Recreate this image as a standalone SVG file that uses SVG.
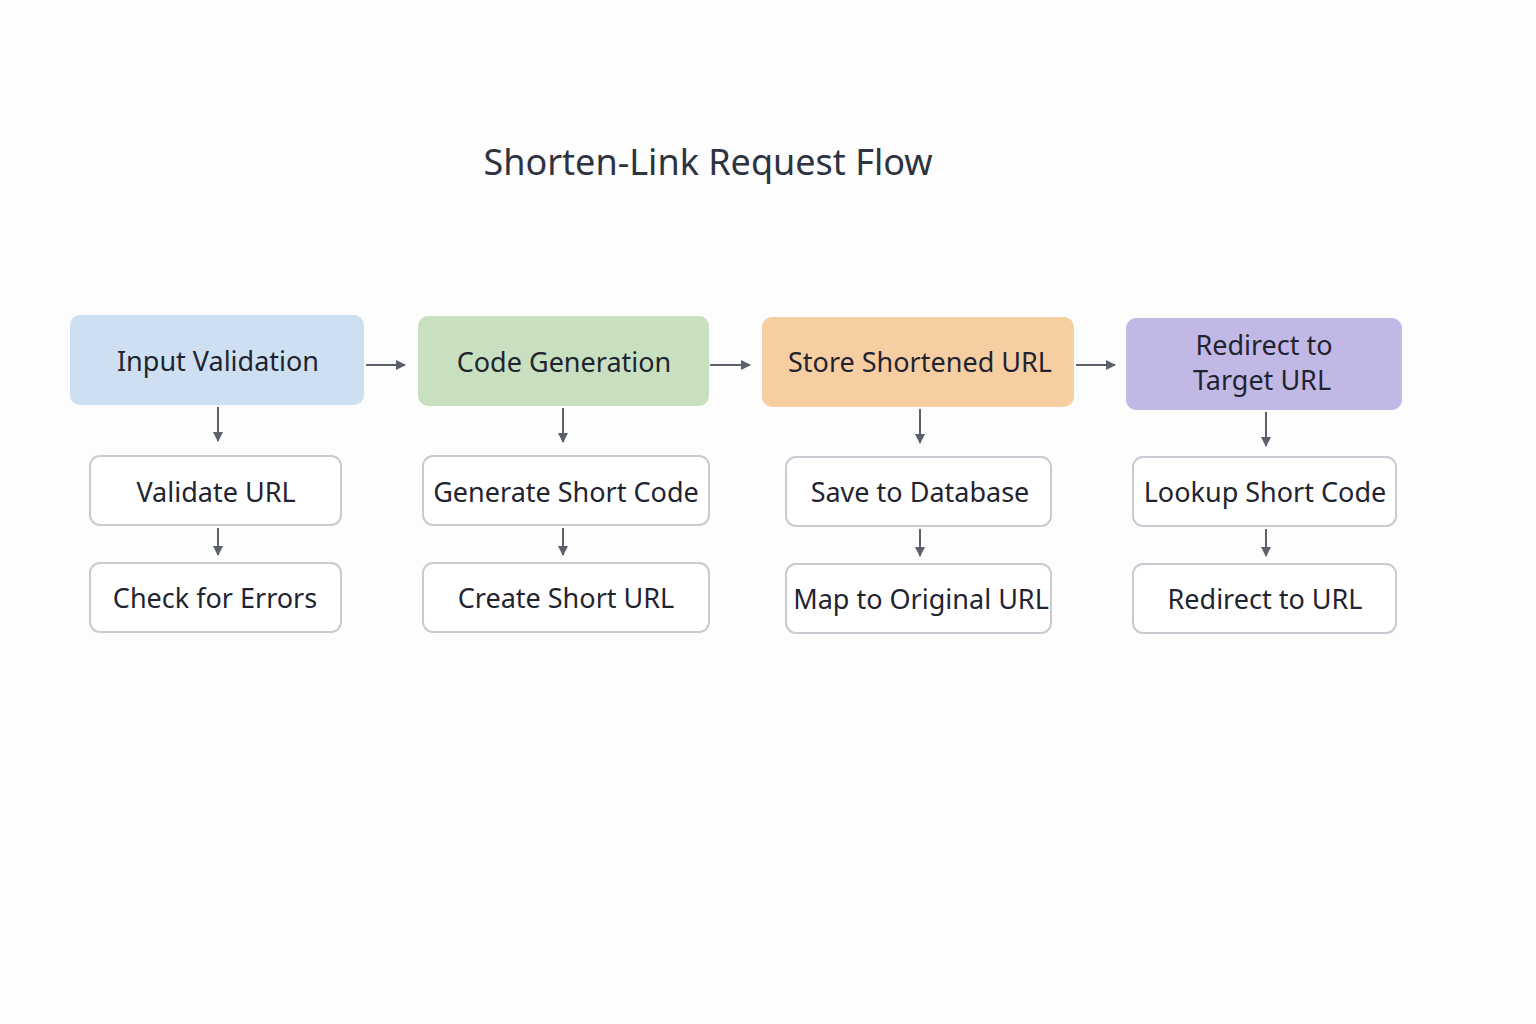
<svg xmlns="http://www.w3.org/2000/svg" width="1536" height="1024" viewBox="0 0 1536 1024">
<style>
text{font-family:"Noto Sans","Open Sans","Liberation Sans",sans-serif;fill:#1f2430;text-anchor:middle;dominant-baseline:central}
.t{font-size:27px}
.s{fill:#fff;stroke:#c9cad2;stroke-width:2}
.c{stroke:#5c606c;stroke-width:2;fill:none;marker-end:url(#a)}
</style>
<defs><marker id="a" viewBox="0 0 10 10" refX="9" refY="5" markerWidth="10" markerHeight="10" markerUnits="userSpaceOnUse" orient="auto"><path d="M0,0L10,5L0,10z" fill="#5c606c"/></marker></defs>
<rect width="1536" height="1024" fill="#fdfdfd"/>
<text x="708" y="161" style="font-size:36px;fill:#2d3340">Shorten-Link Request Flow</text>
<g id="h1"><rect x="70" y="315" width="294" height="90" rx="10" fill="#cddff0"/><text class="t" x="218" y="360">Input Validation</text></g>
<g id="h2"><rect x="418" y="316" width="291" height="90" rx="10" fill="#c8e0bf"/><text class="t" x="564" y="361">Code Generation</text></g>
<g id="h3"><rect x="762" y="317" width="312" height="90" rx="10" fill="#f7cda2"/><text class="t" x="920" y="361">Store Shortened URL</text></g>
<g id="h4"><rect x="1126" y="318" width="276" height="92" rx="10" fill="#c2b8e6"/><text class="t" x="1264" y="344">Redirect to</text><text class="t" x="1262" y="379">Target URL</text></g>
<g id="n1"><rect class="s" x="90" y="456" width="251" height="69" rx="10"/><text class="t" x="216" y="491">Validate URL</text></g>
<g id="n2"><rect class="s" x="90" y="563" width="251" height="69" rx="10"/><text class="t" x="215" y="597">Check for Errors</text></g>
<g id="n3"><rect class="s" x="423" y="456" width="286" height="69" rx="10"/><text class="t" x="566" y="491">Generate Short Code</text></g>
<g id="n4"><rect class="s" x="423" y="563" width="286" height="69" rx="10"/><text class="t" x="566" y="597">Create Short URL</text></g>
<g id="n5"><rect class="s" x="786" y="457" width="265" height="69" rx="10"/><text class="t" x="920" y="491">Save to Database</text></g>
<g id="n6"><rect class="s" x="786" y="564" width="265" height="69" rx="10"/><text class="t" x="921" y="598">Map to Original URL</text></g>
<g id="n7"><rect class="s" x="1133" y="457" width="263" height="69" rx="10"/><text class="t" x="1265" y="491">Lookup Short Code</text></g>
<g id="n8"><rect class="s" x="1133" y="564" width="263" height="69" rx="10"/><text class="t" x="1265" y="598">Redirect to URL</text></g>
<g id="connectors">
<path class="c" d="M366,365H405"/><path class="c" d="M710,365H750"/><path class="c" d="M1076,365H1115"/>
<path class="c" d="M218,407V441"/><path class="c" d="M218,528V555"/>
<path class="c" d="M563,408V442"/><path class="c" d="M563,528V555"/>
<path class="c" d="M920,409V443"/><path class="c" d="M920,529V556"/>
<path class="c" d="M1266,412V446"/><path class="c" d="M1266,529V556"/>
</g>
</svg>
